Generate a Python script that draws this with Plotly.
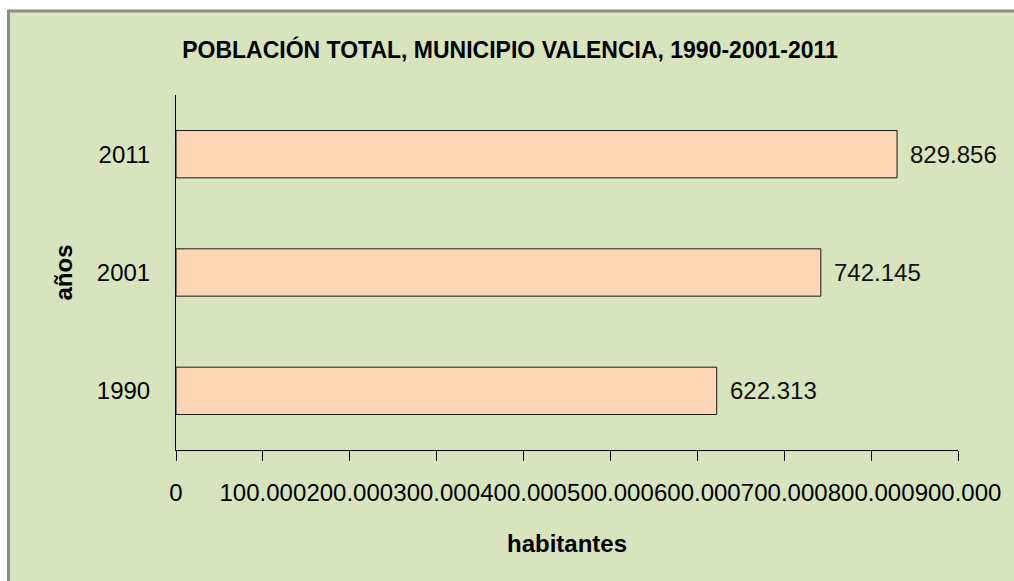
import plotly.graph_objects as go

# Población total del municipio Valencia
years = ["1990", "2001", "2011"]
population = [622313, 742145, 829856]
x_ticks = [0, 100000, 200000, 300000, 400000, 500000, 600000, 700000, 800000, 900000]

W, H = 1014, 581
L, R, T, B = 176, 56, 95, 131
plot_w = W - L - R
plot_h = H - T - B

BG = "#D8E4BD"
BAR = "#FCD5B5"
FONT = "Liberation Sans, Arial, sans-serif"


def px_x(p):
    return (p - L) / plot_w


def px_y(p):
    return (plot_h - (p - T)) / plot_h


fig = go.Figure()
fig.add_trace(go.Bar(
    y=years,
    x=population,
    orientation="h",
    width=0.4,
    marker=dict(color=BAR, line=dict(color="#1a1a1a", width=1)),
    hoverinfo="skip",
))

# value labels beside each bar
for i, v in enumerate(population):
    fig.add_annotation(
        x=v, y=i, xref="x", yref="y",
        text=f"{v:,}".replace(",", "."),
        showarrow=False, xanchor="left", yanchor="middle",
        xshift=11, font=dict(family=FONT, size=24, color="#111111"),
    )

# white margin strips and gray frame edge on top and left
fig.add_shape(type="rect", xref="paper", yref="paper", layer="below",
              x0=px_x(-50), x1=px_x(8), y0=px_y(H + 50), y1=px_y(-50),
              fillcolor="white", line=dict(width=0))
fig.add_shape(type="rect", xref="paper", yref="paper", layer="below",
              x0=px_x(-50), x1=px_x(W + 50), y0=px_y(10), y1=px_y(-50),
              fillcolor="white", line=dict(width=0))
fig.add_shape(type="line", xref="paper", yref="paper", layer="below",
              x0=px_x(8.5), x1=px_x(8.5), y0=px_y(H + 50), y1=px_y(10),
              line=dict(color="#8C8C8C", width=3))
fig.add_shape(type="line", xref="paper", yref="paper", layer="below",
              x0=px_x(7), x1=px_x(W + 50), y0=px_y(11), y1=px_y(11),
              line=dict(color="#8C8C8C", width=3))

fig.update_layout(
    width=W, height=H,
    margin=dict(l=L, r=R, t=T, b=B, pad=0),
    paper_bgcolor=BG,
    plot_bgcolor="rgba(0,0,0,0)",
    separators=",.",
    showlegend=False,
    title=dict(
        text="<b>POBLACIÓN TOTAL, MUNICIPIO VALENCIA, 1990-2001-2011</b>",
        font=dict(family=FONT, size=23, color="#000000"),
        x=510 / W, xref="container", xanchor="center",
        y=1 - 50 / H, yref="container", yanchor="middle",
    ),
    xaxis=dict(
        range=[0, 900000],
        tickvals=x_ticks,
        tickformat=",d",
        tickangle=0,
        showgrid=False, zeroline=False,
        showline=True, linecolor="#000000", linewidth=1,
        ticks="outside", ticklen=10, tickcolor="#000000", tickwidth=1,
        ticklabelstandoff=11,
        tickfont=dict(family=FONT, size=24, color="#000000"),
        title=dict(text="<b>habitantes</b>", standoff=30,
                   font=dict(family=FONT, size=24, color="#000000")),
        fixedrange=True,
    ),
    yaxis=dict(
        range=[-0.5, 2.5],
        type="category",
        showgrid=False, zeroline=False,
        showline=True, linecolor="#000000", linewidth=1,
        ticks="", ticklabelstandoff=20,
        tickfont=dict(family=FONT, size=24, color="#000000"),
        title=dict(text="<b>años</b>", standoff=17,
                   font=dict(family=FONT, size=24, color="#000000")),
        fixedrange=True,
    ),
)

fig.write_html("out.html")
